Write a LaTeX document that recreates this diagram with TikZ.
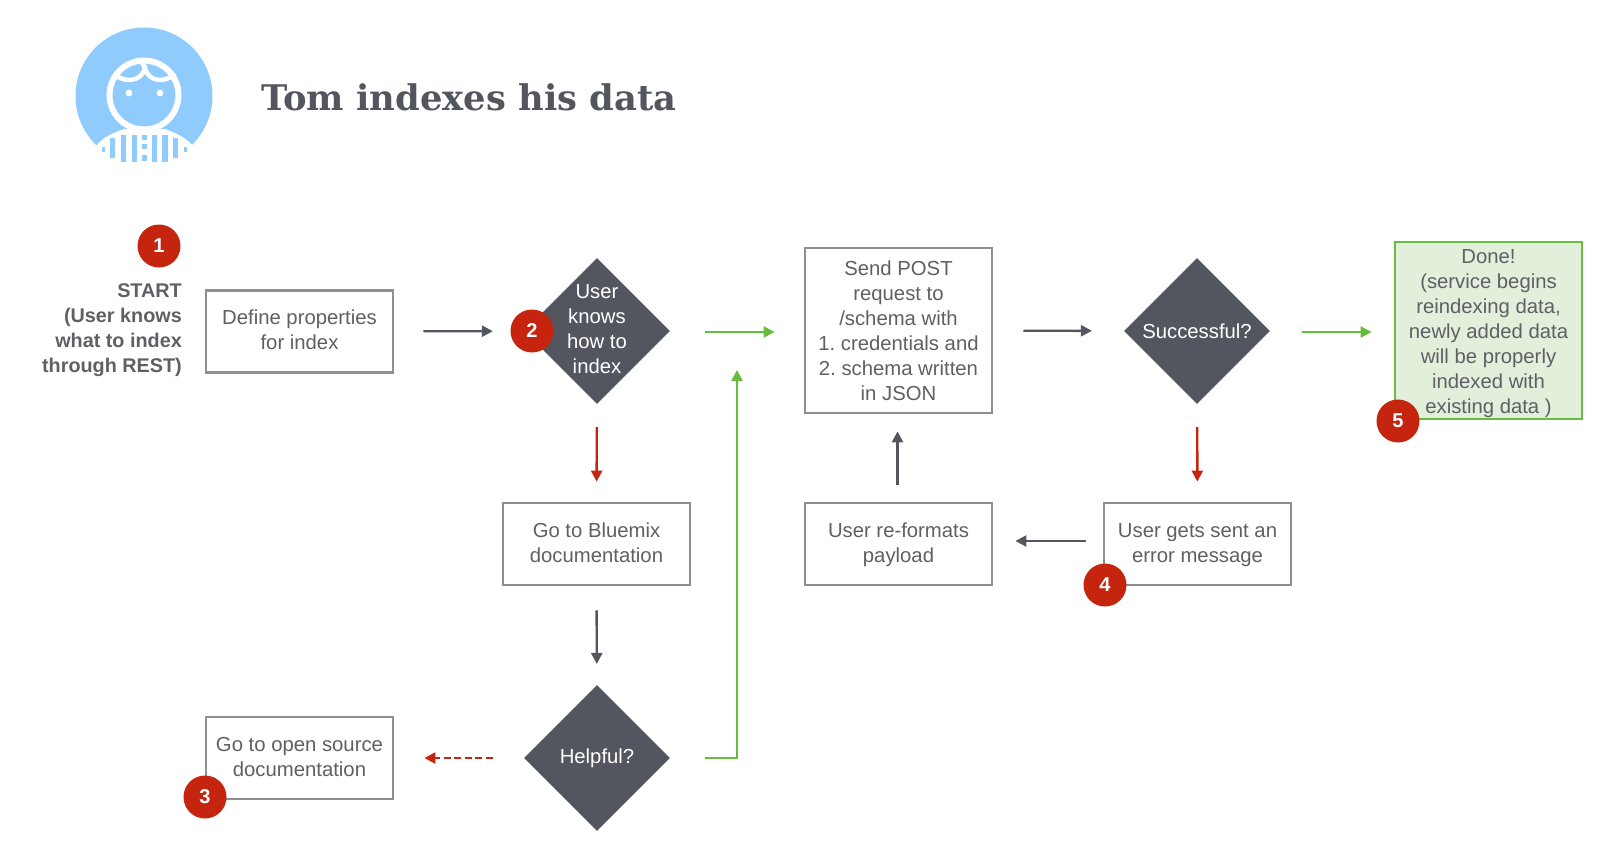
\documentclass[tikz,border=0pt]{standalone}
\usepackage{fontspec}
\setmainfont{Liberation Sans}
\newfontfamily\titlefont{DejaVu Serif}
\usetikzlibrary{positioning, arrows.meta, shapes.geometric}
\definecolor{slategray}{HTML}{53565E}
\definecolor{boxgray}{HTML}{8E8F91}
\definecolor{textgray}{HTML}{5F6065}
\definecolor{okgreen}{HTML}{66BD3E}
\definecolor{badred}{HTML}{C5240E}
\definecolor{donefill}{HTML}{E2EFDB}
\definecolor{skyblue}{HTML}{8FCBFD}
% small text nudges inside a node
\newcommand{\padtop}[1]{\rule{0pt}{#1}}
\newcommand{\padbot}[1]{\rule[-#1]{0pt}{#1}}

\begin{document}
\begin{tikzpicture}[
    x=1pt, y=-1pt,
    stepbox/.style={draw=boxgray, line width=2.8pt, fill=white, minimum width=187pt, minimum height=82pt, align=center, text=textgray, font=\fontsize{20.3}{25}\selectfont\frenchspacing, inner sep=0pt},
    donebox/.style={stepbox, draw=okgreen, fill=donefill, minimum height=177pt},
    decision/.style={diamond, fill=slategray, minimum width=146pt, minimum height=146pt, aspect=1, align=center, text=white, font=\fontsize{20.3}{25}\selectfont, inner sep=0pt},
    decisiontext/.style={align=center, text=white, font=\fontsize{20.3}{25}\selectfont, inner sep=0pt},
    badge/.style={circle, fill=badred, minimum size=43pt, inner sep=0pt, text=white, font=\fontsize{20}{24}\selectfont\bfseries},
    arrowdark/.style={-{Triangle[length=11pt,width=11pt]}, line width=2.4pt, draw=slategray},
    arrowgreen/.style={arrowdark, draw=okgreen},
    arrowred/.style={arrowdark, draw=badred},
    avatarline/.style={draw=white, line width=6pt},
    hairline/.style={draw=white, line width=4.5pt, line cap=round}
]
\useasboundingbox (0,0) rectangle (1600,857);

% Avatar
\fill[skyblue] (144,96) circle (68.5);
\path[fill=white] (96,146) .. controls (103,137) and (113,133) .. (124,129) -- (165,129) .. controls (176,133) and (185,137) .. (193,146) -- (186,168) -- (104,168) -- cycle;
\foreach \stripex/\stripew/\stripetop/\stripebot in {103/1.5/147/152, 112.5/2.6/138/158, 123.5/2.6/135/162, 134.5/2.6/135/162, 154.5/2.6/135/162, 165/2.6/135/162, 175.5/2.6/138/158, 185/1.5/147/152}
    \fill[skyblue] (\stripex-\stripew,\stripetop) rectangle (\stripex+\stripew,\stripebot);
\foreach \dotty in {137.5,146.5,158} \fill[skyblue] (142,\dotty-2.6) rectangle (147,\dotty+2.6);
\draw[avatarline, fill=skyblue] (144,95) circle (34.5);
\foreach \eyex in {129,160} \fill[white] (\eyex,93) circle (3.4);
\draw[hairline] (115,75) .. controls (124,82) and (141,83) .. (145,68) .. controls (149,83) and (165,82) .. (174,75);
\draw[hairline] (145,68) .. controls (144,65) and (142,62) .. (139,60);

% Title
\node[anchor=west, inner sep=0pt, text=slategray, font=\fontsize{35.3}{40}\selectfont\titlefont\bfseries] (title) at (261,97) {Tom indexes his data};

% Start text
\node[anchor=east, inner sep=0pt, align=right, text=textgray, font=\fontsize{19.8}{25}\selectfont\bfseries] (start) at (182,330) {START\\(User knows\\what to index\\through REST)};

% Boxes
\node[stepbox] (define) at (299.5,331.5) {Define properties\\for index\padbot{4pt}};
\node[stepbox] (bluemix) at (596.5,544) {Go to Bluemix\\documentation\padbot{2pt}};
\node[stepbox] (opensource) at (299.5,758) {Go to open source\\documentation\padbot{2pt}};
\node[stepbox, minimum height=165pt] (post) at (898.5,330.5) {Send POST\\request to\\/schema with\\1. credentials and\\2. schema written\\in JSON};
\node[stepbox] (reformat) at (898.5,544) {\padtop{17pt}User re-formats\\payload};
\node[stepbox] (error) at (1197.5,544) {\padtop{17pt}User gets sent an\\error message};
\node[donebox] (done) at (1488.5,330.5) {\padtop{21pt}Done!\\(service begins\\reindexing data,\\newly added data\\will be properly\\indexed with\\existing data )};

% Decisions
\node[decision, label={[decisiontext, yshift=1.5pt]center:{User\\knows\\how to\\index}}] (knows) at (597,331) {};
\node[decision] (successful) at (1197,331) {Successful?};
\node[decision] (helpful) at (597,758) {Helpful?};
\coordinate (merge) at (737,370);

% Arrows
\draw[arrowdark, shorten <=29pt, shorten >=31pt] (define) -- (knows);
\draw[arrowgreen, shorten <=35pt, shorten >=29pt] ([yshift=-1pt]knows.east) -- ([yshift=-1pt]knows.east -| post.west);
\draw[arrowred, shorten <=23pt, shorten >=20pt] (knows) -- (bluemix);
\draw[arrowdark, shorten <=24pt, shorten >=21pt] (bluemix) -- (helpful);
\draw[arrowred, dash pattern=on 7pt off 3.5pt, shorten <=31pt, shorten >=30pt] (helpful) -- (opensource);
\draw[arrowgreen, shorten <=35pt] (helpful) -| (merge);
\draw[arrowdark, shorten <=30pt, shorten >=32pt] (post) -- (successful);
\draw[arrowgreen, shorten <=32pt, shorten >=22pt] ([yshift=-1pt]successful.east) -- ([yshift=-1pt]successful.east -| done.west);
\draw[arrowred, shorten <=23pt, shorten >=20pt] (successful) -- (error);
\draw[arrowdark, shorten <=17pt, shorten >=22pt] (error.west |- 0,541) -- (reformat.east |- 0,541);
\draw[arrowdark, shorten <=17pt, shorten >=17pt] ([xshift=-1pt]reformat.north) -- ([xshift=-1pt]post.south);

% Badges
\node[badge] (one) at (159,246) {1};
\node[badge] (two) at (532,331) {2};
\node[badge] (three) at (205,797) {3};
\node[badge] (four) at (1105,585) {4};
\node[badge] (five) at (1398,421) {5};

\end{tikzpicture}
\end{document}
